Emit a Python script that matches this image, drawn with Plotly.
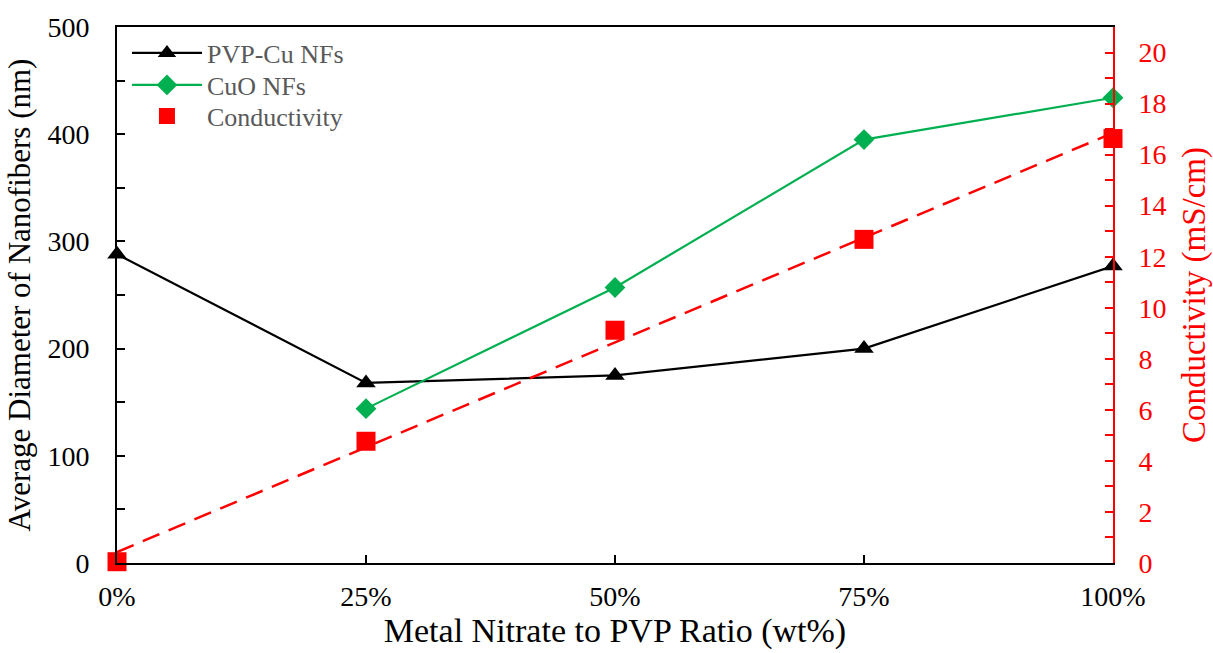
import plotly.graph_objects as go

ratio_pct = [0, 25, 50, 75, 100]
tick_labels = ["0%", "25%", "50%", "75%", "100%"]
pvp_cu_nm = [288, 168, 175, 200, 277]
cuo_x = [25, 50, 75, 100]
cuo_nm = [144, 257, 395, 434]
conductivity = [0.05, 4.77, 9.12, 12.68, 16.63]
trend_x = [0, 100]
trend_y = [0.43, 16.85]

FONT = "Liberation Serif, Times New Roman, serif"

fig = go.Figure()
fig.add_trace(go.Scatter(x=trend_x, y=trend_y, yaxis="y2", mode="lines",
                         line=dict(color="#ff0000", width=2.5, dash="18px,10px"),
                         showlegend=False, hoverinfo="skip", cliponaxis=False))
fig.add_trace(go.Scatter(x=ratio_pct, y=pvp_cu_nm, name="PVP-Cu NFs", mode="lines+markers",
                         line=dict(color="black", width=2.2), cliponaxis=False, legend="legend",
                         marker=dict(symbol="triangle-up", size=17, color="black")))
fig.add_trace(go.Scatter(x=cuo_x, y=cuo_nm, name="CuO NFs", mode="lines+markers",
                         line=dict(color="#00b050", width=2.2), cliponaxis=False, legend="legend2",
                         marker=dict(symbol="diamond", size=16, color="#00b050")))
fig.add_trace(go.Scatter(x=ratio_pct, y=conductivity, name="Conductivity", yaxis="y2", mode="markers",
                         cliponaxis=False, legend="legend3",
                         marker=dict(symbol="square", size=19, color="#ff0000")))

leg = dict(x=0.01, xanchor="left", yanchor="middle", bgcolor="rgba(0,0,0,0)",
           font=dict(size=26, color="#595959"), itemwidth=70)

fig.update_layout(
    width=1213, height=653,
    margin=dict(l=117, r=100, t=27, b=90),
    paper_bgcolor="white", plot_bgcolor="white",
    font=dict(family=FONT, size=28, color="black"),
    showlegend=True,
    legend=dict(leg, y=0.9515),
    legend2=dict(leg, y=0.8918),
    legend3=dict(leg, y=0.834),
    xaxis=dict(range=[0, 100], tickvals=ratio_pct, ticktext=tick_labels, automargin=False,
               showline=True, linecolor="black", linewidth=2, mirror=True,
               ticks="inside", ticklen=8, tickwidth=1.5, tickcolor="black",
               ticklabelstandoff=7,
               showgrid=False, zeroline=False,
               title=dict(text="Metal Nitrate to PVP Ratio (wt%)", font=dict(size=34), standoff=8)),
    yaxis=dict(range=[0, 500], dtick=100, showline=True, linecolor="black", linewidth=2, automargin=False,
               ticks="inside", ticklen=8, tickwidth=1.5, tickcolor="black",
               ticklabelstandoff=20,
               minor=dict(dtick=50, ticks="inside", ticklen=8, tickwidth=1.5, tickcolor="black", showgrid=False),
               showgrid=False, zeroline=False,
               title=dict(text="Average Diameter of Nanofibers (nm)", font=dict(size=31), standoff=8)),
    yaxis2=dict(range=[0, 21], tickvals=list(range(0, 21, 2)), overlaying="y", side="right", automargin=False,
                showline=True, linecolor="#ff0000", linewidth=2,
                ticks="inside", ticklen=8, tickwidth=1.5, tickcolor="#ff0000",
                ticklabelstandoff=18,
                minor=dict(tickvals=list(range(1, 22, 2)), ticks="inside", ticklen=8, tickwidth=1.5,
                           tickcolor="#ff0000", showgrid=False),
                tickfont=dict(color="#ff0000"),
                showgrid=False, zeroline=False,
                title=dict(text="Conductivity (mS/cm)", font=dict(size=33, color="#ff0000"), standoff=18)),
)

fig.write_html("out.html")
